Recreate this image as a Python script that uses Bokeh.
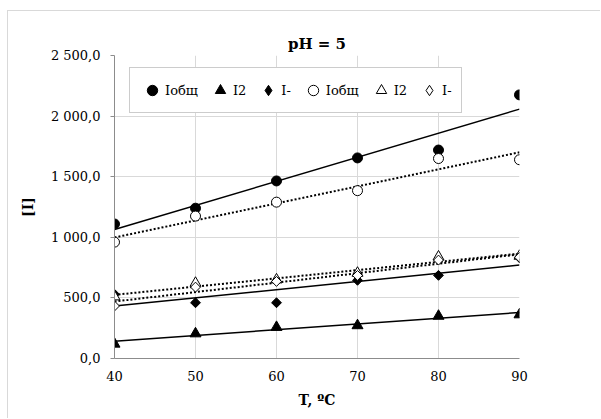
import numpy as np
from bokeh.plotting import figure
from bokeh.models import Range1d, FixedTicker, Legend, LegendItem
from bokeh.embed import file_html
from bokeh.resources import INLINE

# ---- data ----
T = [40, 50, 60, 70, 80, 90]
I_total_filled = [1110, 1240, 1465, 1655, 1720, 2175]
I2_filled = [120, 205, 258, 272, 350, 362]
Iminus_filled = [530, 460, 460, 645, 686, 831]
I_total_open = [960, 1175, 1290, 1385, 1650, 1640]
I2_open = [510, 622, 650, 705, 839, 845]
Iminus_open = [433, 589, 636, 685, 812, 835]

y_ticks = [0, 500, 1000, 1500, 2000, 2500]
y_tick_labels = ["0,0", "500,0", "1 000,0", "1 500,0", "2 000,0", "2 500,0"]
x_ticks = [40, 50, 60, 70, 80, 90]

title_text = "pH = 5"
x_label = "T, ºC"
y_label = "[I]"
legend_labels = ["Iобщ", "I2", "I-", "Iобщ", "I2", "I-"]

FONT = "DejaVu Serif"

p = figure(width=593, height=408, output_backend="svg", toolbar_location=None,
           x_range=Range1d(40, 90), y_range=Range1d(0, 2500),
           min_border_left=106, min_border_right=82, min_border_top=44, min_border_bottom=61)
p.margin = (10, 0, 0, 7)
p.styles = {"border-top": "1px solid #d9d9d9", "border-left": "1px solid #d9d9d9"}
p.outline_line_color = None
p.background_fill_color = "white"
p.border_fill_color = "white"

p.title.text = title_text
p.title.align = "center"
p.title.text_font = FONT
p.title.text_font_size = "15px"
p.title.text_font_style = "bold"
p.title.text_color = "black"
p.title.standoff = 6

for ax in (p.xaxis[0], p.yaxis[0]):
    ax.axis_line_color = "#8c8c8c"
    ax.axis_line_width = 1
    ax.major_label_text_font = FONT
    ax.major_label_text_font_size = "13px"
    ax.major_label_text_color = "black"
    ax.minor_tick_line_color = None
    ax.axis_label_text_font = FONT
    ax.axis_label_text_font_size = "14px"
    ax.axis_label_text_font_style = "bold"
    ax.axis_label_text_color = "black"

p.xaxis.ticker = FixedTicker(ticks=x_ticks)
p.xaxis.major_tick_line_color = None
p.xaxis.major_label_standoff = 6
p.xaxis.axis_label = x_label
p.xaxis.axis_label_standoff = 8

p.yaxis.ticker = FixedTicker(ticks=y_ticks)
p.yaxis.major_label_overrides = {t: l for t, l in zip(y_ticks, y_tick_labels)}
p.yaxis.major_tick_line_color = "#8c8c8c"
p.yaxis.major_tick_in = 0
p.yaxis.major_tick_out = 4
p.yaxis.major_label_standoff = 10
p.yaxis.axis_label = y_label
p.yaxis.axis_label_standoff = 12

p.xgrid.grid_line_color = "#d9d9d9"
p.ygrid.grid_line_color = "#d9d9d9"
p.xgrid.ticker = FixedTicker(ticks=x_ticks)
p.ygrid.ticker = FixedTicker(ticks=y_ticks)

x = np.array(T, dtype=float)
xl = [T[0], T[-1]]

def trend(vals):
    k, b = np.polyfit(x, np.array(vals, dtype=float), 1)
    return [k * xl[0] + b, k * xl[1] + b]

series = [
    (I_total_filled, "circle", 10, "black", "solid", 0),
    (I2_filled, "triangle", 11, "black", "solid", 0),
    (Iminus_filled, "square", 7, "black", "solid", np.pi / 4),
    (I_total_open, "circle", 10, "white", "dotted", 0),
    (I2_open, "triangle", 11, "white", "dotted", 0),
    (Iminus_open, "square", 7, "white", "dotted", np.pi / 4),
]

for vals, marker, size, fill, style, ang in series:
    if style == "solid":
        p.line(xl, trend(vals), line_color="black", line_width=1.5)
    else:
        p.line(xl, trend(vals), line_color="black", line_width=2, line_dash="2 2")

items = []
for (vals, marker, size, fill, style, ang), lab in zip(series, legend_labels):
    r = p.scatter(T, vals, marker=marker, size=size, fill_color=fill,
                  line_color="black", line_width=1, angle=ang)
    if marker == "square":
        r = p.scatter(T, vals, marker="diamond", size=0, fill_color=fill,
                      line_color="black", line_width=1)
    items.append(LegendItem(label=lab, renderers=[r]))

legend = Legend(items=items, orientation="horizontal", location=(15, 245))
legend.label_text_font = FONT
legend.label_text_font_size = "13px"
legend.label_text_color = "black"
legend.glyph_width = 26
legend.glyph_height = 26
legend.label_standoff = 0
legend.label_width = 0
legend.spacing = 9
legend.padding = 9
legend.margin = 0
legend.border_line_color = "#999999"
legend.border_line_width = 1
legend.background_fill_color = "white"
legend.background_fill_alpha = 1
p.add_layout(legend, "center")

open("out.html", "w").write(file_html(p, INLINE))
